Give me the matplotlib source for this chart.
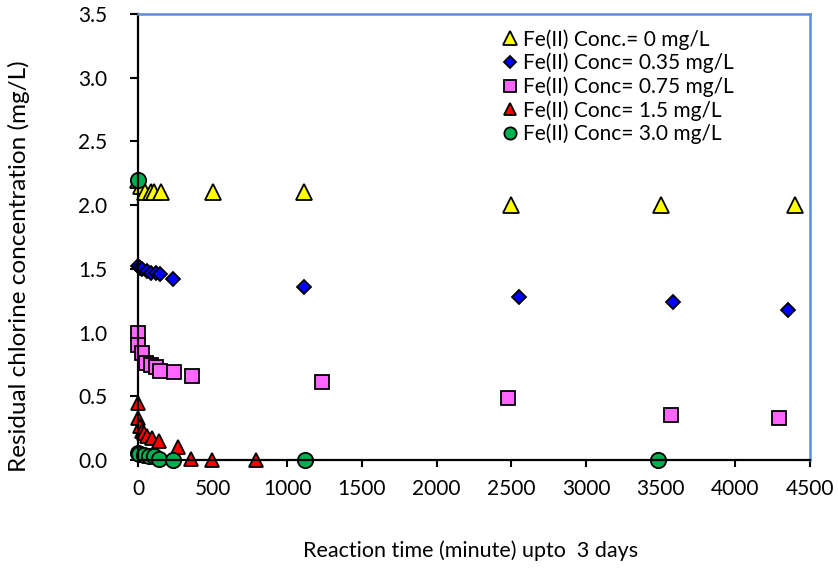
import matplotlib
matplotlib.use("Agg")
import matplotlib.pyplot as plt

plt.rcParams['font.family'] = ['Lato', 'DejaVu Sans']

# Data (minutes, mg/L)
x_0 = [0, 20, 45, 85, 110, 155, 500, 1110, 2500, 3500, 4400]
y_0 = [2.2, 2.15, 2.1, 2.1, 2.1, 2.1, 2.1, 2.1, 2.0, 2.0, 2.0]

x_035 = [0, 15, 30, 60, 90, 120, 150, 235, 1110, 2550, 3580, 4350]
y_035 = [1.52, 1.51, 1.5, 1.48, 1.47, 1.47, 1.46, 1.42, 1.36, 1.28, 1.24, 1.18]

x_075 = [0, 2, 29, 52, 85, 119, 145, 239, 360, 1231, 2480, 3570, 4295]
y_075 = [1.0, 0.90, 0.84, 0.76, 0.745, 0.73, 0.70, 0.69, 0.66, 0.61, 0.49, 0.35, 0.33]

x_15 = [0, 2, 11, 25, 40, 62, 96, 141, 266, 357, 494, 793]
y_15 = [0.45, 0.33, 0.27, 0.23, 0.21, 0.19, 0.17, 0.15, 0.10, 0.01, 0.0, 0.0]

x_30 = [0, 0, 7, 40, 74, 107, 141, 235, 1117, 3480]
y_30 = [2.2, 0.055, 0.05, 0.04, 0.035, 0.03, 0.01, 0.0, 0.0, 0.0]

labels = ["Fe(II) Conc.= 0 mg/L", "Fe(II) Conc= 0.35 mg/L", "Fe(II) Conc= 0.75 mg/L",
          "Fe(II) Conc= 1.5 mg/L", "Fe(II) Conc= 3.0 mg/L"]
x_ticks = [0, 500, 1000, 1500, 2000, 2500, 3000, 3500, 4000, 4500]
y_ticks = [0.0, 0.5, 1.0, 1.5, 2.0, 2.5, 3.0, 3.5]

fig = plt.figure(figsize=(8.38, 5.71), dpi=100)
ax = fig.add_axes([138/838, 1-460/571, (810-138)/838, (460-14)/571])

series = [
    (x_0, y_0, '^', '#FFFF00', 12),
    (x_035, y_035, 'D', '#0000FF', 7.5),
    (x_075, y_075, 's', '#FF66FF', 10),
    (x_15, y_15, '^', '#FF0000', 10),
    (x_30, y_30, 'o', '#00B050', 11),
]
for (xs, ys, m, c, ms), lab in zip(series, labels):
    ax.plot(xs, ys, linestyle='none', marker=m, markersize=ms, markerfacecolor=c,
            markeredgecolor='black', markeredgewidth=1.3, label=lab, clip_on=False)

ax.set_xlim(0, 4500)
ax.set_ylim(0, 3.5)
ax.set_xticks(x_ticks)
ax.set_yticks(y_ticks)
ax.set_yticklabels([f"{v:.1f}" for v in y_ticks])
ax.tick_params(axis='both', direction='out', labelsize=15, width=1.5, color='black')
ax.tick_params(axis='y', length=6, pad=16)
ax.tick_params(axis='x', length=5, pad=9)

for s in ['left', 'bottom']:
    ax.spines[s].set_color('black')
    ax.spines[s].set_linewidth(1.6)
for s in ['top', 'right']:
    ax.spines[s].set_color('#5B8FD6')
    ax.spines[s].set_linewidth(1.8)

ax.set_xlabel("Reaction time (minute) upto  3 days", fontsize=15.5)
ax.xaxis.set_label_coords((471-138)/672, (460-551)/446)
ax.xaxis.label.set_va('center')
ax.set_ylabel("Residual chlorine concentration (mg/L)", fontsize=17.5)
ax.yaxis.set_label_coords((19-138)/672, (460-266)/446)
ax.yaxis.label.set_va('center')

leg = ax.legend(loc='upper left', bbox_to_anchor=((500-138)/672, (460-29)/446),
                frameon=False, fontsize=15, borderaxespad=0, borderpad=0,
                handlelength=1.0, handletextpad=0.1, labelspacing=0.15, markerscale=0.8)

fig.savefig("out.png", dpi=100)
